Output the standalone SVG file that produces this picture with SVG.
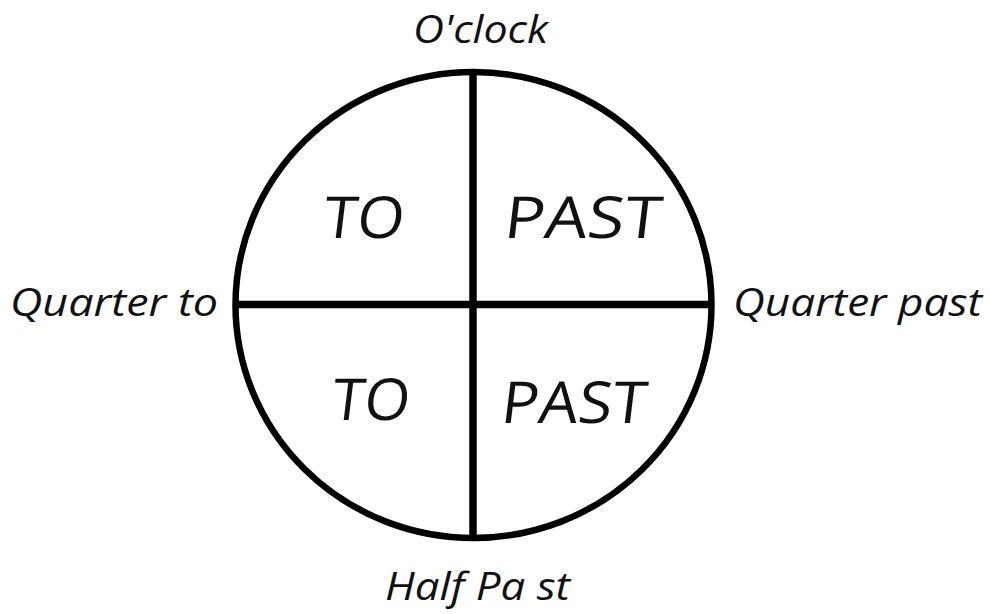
<svg xmlns="http://www.w3.org/2000/svg" width="990" height="614" viewBox="0 0 990 614">
<style>
.lbl{font-family:"Open Sans","DejaVu Sans",sans-serif;font-style:italic;font-weight:500;font-size:38px;fill:#111}
.big{font-family:"Open Sans","DejaVu Sans",sans-serif;font-weight:500;font-size:58px;fill:#111;text-anchor:middle}
.ln{stroke:#000;stroke-width:7.5;fill:none}
</style>
<rect width="990" height="614" fill="#fff"/>
<g id="clock">
<ellipse cx="473.5" cy="305" rx="238" ry="233" fill="none" stroke="#000" stroke-width="6.5"/>
</g>
<g id="connectors">
<line class="ln" x1="473" y1="70" x2="473" y2="540"/>
<line class="ln" x1="236" y1="304.5" x2="711" y2="304.5"/>
</g>
<g id="oclock"><text class="lbl" x="413" y="43" textLength="135" lengthAdjust="spacingAndGlyphs">O'clock</text></g>
<g id="quarter-to"><text class="lbl" x="10" y="316" textLength="208" lengthAdjust="spacingAndGlyphs">Quarter to</text></g>
<g id="quarter-past"><text class="lbl" x="733" y="316" textLength="249" lengthAdjust="spacingAndGlyphs">Quarter past</text></g>
<g id="half-past"><text class="lbl" x="385" y="600" textLength="185" lengthAdjust="spacingAndGlyphs">Half Pa st</text></g>
<g id="to-top"><text class="big" transform="translate(362 238) skewX(-7)" textLength="81" lengthAdjust="spacingAndGlyphs">TO</text></g>
<g id="past-top"><text class="big" transform="translate(581 238) skewX(-7)" textLength="157" lengthAdjust="spacingAndGlyphs">PAST</text></g>
<g id="to-bottom"><text class="big" transform="translate(369 420) skewX(-7)" textLength="78" lengthAdjust="spacingAndGlyphs">TO</text></g>
<g id="past-bottom"><text class="big" transform="translate(572 423) skewX(-7)" textLength="145" lengthAdjust="spacingAndGlyphs">PAST</text></g>
</svg>
